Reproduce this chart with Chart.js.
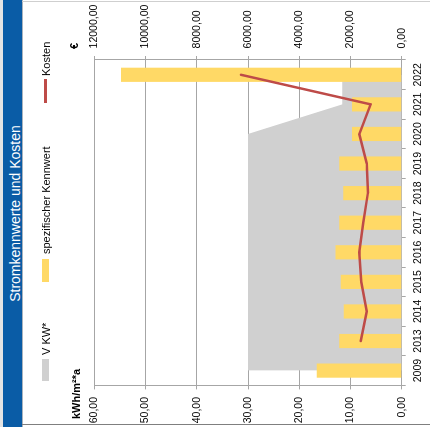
<!DOCTYPE html>
<html>
<head>
<meta charset="utf-8">
<script src="https://cdn.jsdelivr.net/npm/chart.js@4"></script>
<style>
  html, body { margin: 0; padding: 0; background: #fff; overflow: hidden; }
  body { width: 430px; height: 427px; position: relative; }
  /* the whole sheet is laid out upright and then turned a quarter turn */
  #sheet {
    position: absolute; left: 0; top: 0; width: 427px; height: 430px;
    transform-origin: 0 0; transform: translate(0, 427px) rotate(-90deg);
    background: #fff; font-family: 'Liberation Sans', Arial, sans-serif; color: #000;
  }
  #edge { position: absolute; left: 0; top: 0; width: 427px; height: 3px; background: #e4e4e4; }
  #band { position: absolute; left: 0; top: 3px; width: 427px; height: 19px; background: #0a5ca6; }
  #bandLine { position: absolute; left: 0; top: 22px; width: 427px; height: 1px; background: #a9b3bd; }
  #title { position: absolute; left: 0; top: 6.5px; width: 427px; text-align: center; color: #fff; font-size: 14px; line-height: normal; white-space: nowrap; }
  #lineLow { position: absolute; left: 2px; top: 22px; width: 1px; height: 408px; background: #7f7f7f; }
  #lineHigh { position: absolute; left: 425px; top: 22px; width: 1px; height: 408px; background: #cfcfcf; }
  #plot { position: absolute; left: 0; top: 22px; width: 427px; height: 408px; }
  .lg { position: absolute; font-size: 11px; line-height: 11px; white-space: nowrap; }
  .sw { position: absolute; }
  .axt { position: absolute; font-size: 11px; line-height: 11px; font-weight: bold; white-space: nowrap; }
</style>
</head>
<body>
<div id="sheet">
  <div id="edge"></div>
  <div id="band"></div>
  <div id="bandLine"></div>
  <div id="title">Stromkennwerte und Kosten</div>
  <div id="lineLow"></div>
  <div id="lineHigh"></div>
  <div id="plot"><canvas id="chart"></canvas></div>

  <div class="sw" style="left:46px;top:42px;width:22px;height:7px;background:#d0d0d0"></div>
  <div class="lg" style="left:72px;top:40.7px">V KW*</div>
  <div class="sw" style="left:145px;top:42px;width:23px;height:7px;background:#ffd966"></div>
  <div class="lg" style="left:173px;top:40.7px">spezifischer Kennwert</div>
  <div class="sw" style="left:324px;top:44.3px;width:24px;height:2.5px;background:#be4b48"></div>
  <div class="lg" style="left:351px;top:40.7px">Kosten</div>

  <div class="axt" style="left:8px;top:70.7px">kWh/m²*a</div>
  <div class="axt" style="left:378px;top:68.7px">€</div>
</div>

<script>
// Jahre (Kategorien)
const years = ['2009', '2013', '2014', '2015', '2016', '2017', '2018', '2019', '2020', '2021', '2022'];
// spezifischer Kennwert, kWh/m²*a
const kennwert = [16.6, 12.2, 11.3, 11.9, 12.9, 12.2, 11.4, 12.2, 9.7, 9.7, 54.8];
// Vergleichskennwert V KW*, kWh/m²*a
const vkw = [30, 30, 30, 30, 30, 30, 30, 30, 30, 11.6, 11.6];
// Kosten in €
const kosten = [null, 1600, 1366, 1577, 1655, 1499, 1320, 1366, 1655, 1210, 6274];
// Achsenteilungen
const kwhTicks = [0, 10, 20, 30, 40, 50, 60];
const euroTicks = [0, 2000, 4000, 6000, 8000, 10000, 12000];

const fmt = v => Number(v).toFixed(2).replace('.', ',');
const gridColor = '#a6a6a6';
const tickFont = { family: "'Liberation Sans', Arial, sans-serif", size: 10.5 };

Chart.defaults.font.family = "'Liberation Sans', Arial, sans-serif";
Chart.defaults.color = '#000';

new Chart(document.getElementById('chart'), {
  data: {
    labels: years,
    datasets: [
      {
        type: 'line', label: 'Kosten', data: kosten, yAxisID: 'y2', order: 0,
        borderColor: '#be4b48', borderWidth: 2.5, pointRadius: 0, tension: 0,
        borderJoinStyle: 'round', borderCapStyle: 'round', fill: false
      },
      {
        type: 'bar', label: 'spezifischer Kennwert', data: kennwert, yAxisID: 'y', order: 1,
        backgroundColor: '#ffd966', borderWidth: 0, barPercentage: 0.48, categoryPercentage: 1
      },
      {
        type: 'line', label: 'V KW*', data: vkw, yAxisID: 'y', order: 2,
        backgroundColor: '#d0d0d0', borderWidth: 0, pointRadius: 0, tension: 0, fill: 'origin'
      }
    ]
  },
  options: {
    responsive: true, maintainAspectRatio: false, animation: false,
    layout: { padding: { top: 72.3, left: 0, right: 0, bottom: 0 } },
    plugins: { legend: { display: false }, tooltip: { enabled: false }, title: { display: false } },
    scales: {
      x: {
        type: 'category', offset: true,
        grid: { offset: true, drawOnChartArea: false, drawTicks: true, tickLength: 4, color: gridColor },
        border: { color: gridColor },
        ticks: { padding: 6, font: tickFont, maxRotation: 0, minRotation: 0, autoSkip: false },
        afterFit: s => { s.height = 28.3; }
      },
      y: {
        position: 'left', min: 0, max: 60,
        grid: { color: gridColor, tickLength: 4 },
        border: { color: gridColor },
        ticks: { padding: 7.6, font: tickFont, callback: fmt },
        afterBuildTicks: s => { s.ticks = kwhTicks.map(v => ({ value: v })); },
        afterFit: s => { s.width = 41.6; }
      },
      y2: {
        position: 'right', min: 0, max: 12000,
        grid: { drawOnChartArea: false, tickLength: 4, color: gridColor },
        border: { color: gridColor },
        ticks: { padding: 7.6, font: tickFont, callback: fmt },
        afterBuildTicks: s => { s.ticks = euroTicks.map(v => ({ value: v })); },
        afterFit: s => { s.width = 60; }
      }
    }
  }
});
</script>
</body>
</html>
